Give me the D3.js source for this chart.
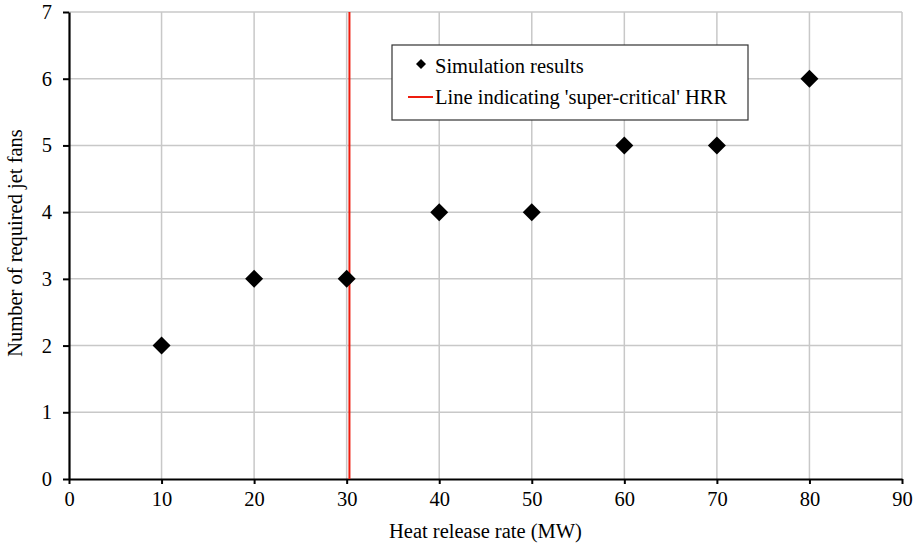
<!DOCTYPE html>
<html><head><meta charset="utf-8">
<script src="https://cdn.jsdelivr.net/npm/d3@7"></script>
<style>body{margin:0;background:#fff}svg{display:block}svg text{font-family:"Liberation Serif","Times New Roman",serif !important;fill:#000}</style>
</head><body><svg id="c" width="919" height="544"></svg>
<script>
const hrr = [10, 20, 30, 40, 50, 60, 70, 80];
const fans = [2, 3, 3, 4, 4, 5, 5, 6];
const criticalHRR = 30.3;
const xTicks = [0,10,20,30,40,50,60,70,80,90];
const yTicks = [0,1,2,3,4,5,6,7];
const legendLabels = ["Simulation results", "Line indicating 'super-critical' HRR"];
const xTitle = "Heat release rate (MW)";
const yTitle = "Number of required jet fans";

const FS = 20.5;
const svg = d3.select("#c");
const L=69, R=902, T=12, B=479;
const x = d3.scaleLinear().domain([0,90]).range([L,R]);
const y = d3.scaleLinear().domain([0,7]).range([B,T]);

// grid
svg.append("g").selectAll("line").data(xTicks.slice(1)).join("line")
  .attr("x1",d=>x(d)).attr("x2",d=>x(d)).attr("y1",T).attr("y2",B)
  .attr("stroke","#c8c8c8").attr("stroke-width",1.5);
svg.append("g").selectAll("line").data(yTicks.slice(1)).join("line")
  .attr("x1",L).attr("x2",R).attr("y1",d=>y(d)).attr("y2",d=>y(d))
  .attr("stroke","#c8c8c8").attr("stroke-width",1.5);

// axes
const xa = svg.append("g").attr("transform",`translate(0,${B})`)
  .call(d3.axisBottom(x).tickValues(xTicks).tickFormat(d3.format("d")).tickSize(5).tickSizeOuter(0).tickPadding(7));
const ya = svg.append("g").attr("transform",`translate(${L},0)`)
  .call(d3.axisLeft(y).tickValues(yTicks).tickFormat(d3.format("d")).tickSize(6).tickSizeOuter(0).tickPadding(11));
[xa,ya].forEach(a=>{
  a.attr("font-family",null).attr("font-size",FS);
  a.select(".domain").attr("stroke","#000").attr("stroke-width",2.2);
  a.selectAll(".tick line").attr("stroke","#000").attr("stroke-width",2);
  a.selectAll(".tick text").attr("font-size",FS);
});

// red line
svg.append("line").attr("x1",x(criticalHRR)).attr("x2",x(criticalHRR))
  .attr("y1",T).attr("y2",B).attr("stroke","#ee1c0e").attr("stroke-width",2);

// markers
const diamond = s => `M0,${-s}L${s},0L0,${s}L${-s},0Z`;
svg.append("g").selectAll("path").data(hrr).join("path")
  .attr("transform",(d,i)=>`translate(${x(d)},${y(fans[i])})`)
  .attr("d",diamond(9)).attr("fill","#000");

// legend
const lg = svg.append("g");
lg.append("rect").attr("x",392).attr("y",45).attr("width",356).attr("height",75)
  .attr("fill","#fff").attr("stroke","#333").attr("stroke-width",1.2);
lg.append("path").attr("transform","translate(421,64)").attr("d",diamond(5)).attr("fill","#000");
lg.append("line").attr("x1",408).attr("x2",433).attr("y1",97).attr("y2",97)
  .attr("stroke","#ee1c0e").attr("stroke-width",2);
lg.append("text").attr("x",435).attr("y",73).attr("font-size",FS).text(legendLabels[0]);
lg.append("text").attr("x",435).attr("y",104).attr("font-size",FS).text(legendLabels[1]);

// titles
svg.append("text").attr("x",(L+R)/2).attr("y",538).attr("text-anchor","middle")
  .attr("font-size",FS).text(xTitle);
svg.append("text").attr("transform",`translate(22,243) rotate(-90)`)
  .attr("text-anchor","middle").attr("font-size",FS).text(yTitle);
</script></body></html>
